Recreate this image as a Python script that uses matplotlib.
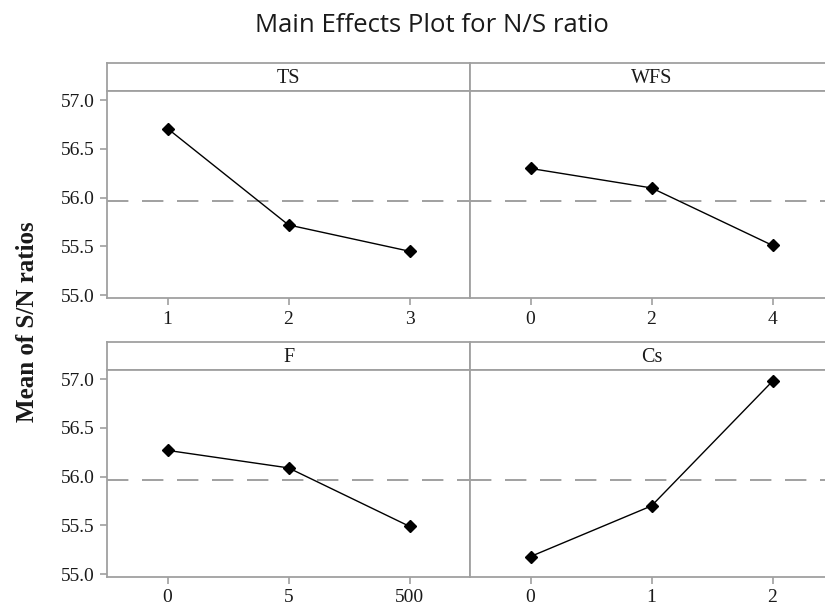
import numpy as np
import matplotlib
matplotlib.use("Agg")
import matplotlib.pyplot as plt

# data
factors   = ["TS", "WFS", "F", "Cs"]
levels_ts  = ["1", "2", "3"]
levels_wfs = ["0", "2", "4"]
levels_f   = ["0", "5", "500"]
levels_cs  = ["0", "1", "2"]
sn_ts  = [56.71, 55.72, 55.45]
sn_wfs = [56.30, 56.10, 55.51]
sn_f   = [56.27, 56.09, 55.49]
sn_cs  = [55.18, 55.70, 56.98]
grand_mean = 55.97

W, H = 825, 609
GRAY = "#a0a0a0"
TXT  = "#1a1a1a"
SERIF = "Liberation Serif"

fig = plt.figure(figsize=(W / 100, H / 100), dpi=100)


def px_axes(x0, y0, x1, y1):
    # pixel box (top-left origin) -> figure axes
    return fig.add_axes([x0 / W, 1 - y1 / H, (x1 - x0) / W, (y1 - y0) / H])


panels = [
    ("TS",  levels_ts,  sn_ts,  107, 470, 63, 91, 298, True),
    ("WFS", levels_wfs, sn_wfs, 470, 833, 63, 91, 298, False),
    ("F",   levels_f,   sn_f,   107, 470, 342, 370, 577, True),
    ("Cs",  levels_cs,  sn_cs,  470, 833, 342, 370, 577, False),
]

for name, levels, vals, x0, x1, ytop, ystrip, ybot, show_y in panels:
    # strip with factor name
    st = px_axes(x0, ytop, x1, ystrip)
    st.set_xticks([])
    st.set_yticks([])
    for sp in st.spines.values():
        sp.set_color(GRAY)
        sp.set_linewidth(1.3)
    st.text(0.5, 0.45, name, transform=st.transAxes, ha="center", va="center",
            fontsize=14.5, family=SERIF, color=TXT)

    ax = px_axes(x0, ystrip, x1, ybot)
    x = np.arange(1, len(levels) + 1)
    ax.axhline(grand_mean, color=GRAY, lw=1.4, dashes=(11, 7), zorder=1)
    ax.plot(x, vals, color="black", lw=1.0, marker="D", ms=6.3, zorder=3)
    ax.set_xlim(0.5, 3.5)
    ax.set_ylim(54.97, 57.095)
    ax.set_xticks(x)
    ax.set_xticklabels(levels)
    ax.set_yticks([55.0, 55.5, 56.0, 56.5, 57.0])
    ax.yaxis.set_major_formatter(matplotlib.ticker.FormatStrFormatter("%.1f"))
    for sp in ax.spines.values():
        sp.set_color(GRAY)
        sp.set_linewidth(1.3)
    ax.tick_params(axis="both", direction="out", length=5, width=1.2, color=GRAY,
                   labelsize=14, labelcolor=TXT, pad=4)
    for lab in ax.get_xticklabels() + ax.get_yticklabels():
        lab.set_family(SERIF)
    if not show_y:
        ax.tick_params(axis="y", left=False, labelleft=False)

fig.text(432 / W, 1 - 25 / H, "Main Effects Plot for N/S ratio", ha="center", va="center",
         fontsize=18.5, family="Open Sans", color=TXT)
fig.text(27 / W, 1 - 322 / H, "Mean of S/N ratios", ha="center", va="center", rotation=90,
         fontsize=18, family=SERIF, weight="bold", color=TXT)

fig.savefig("out.png", dpi=100)
